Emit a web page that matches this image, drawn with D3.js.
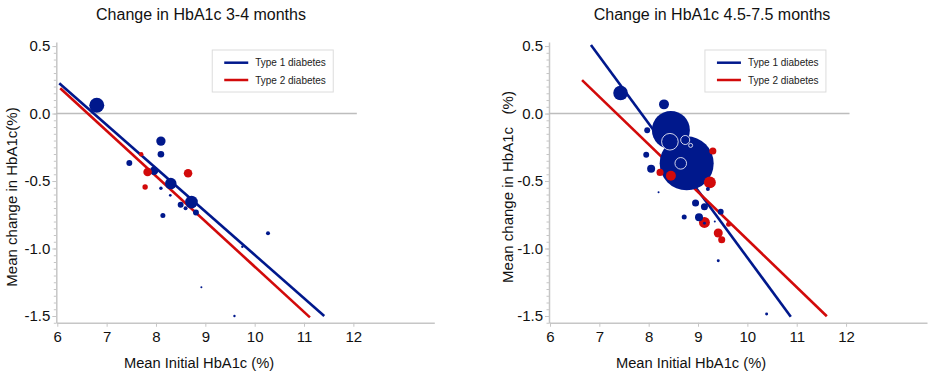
<!DOCTYPE html>
<html>
<head>
<meta charset="utf-8">
<script src="https://cdn.jsdelivr.net/npm/d3@7"></script>
<style>
  body { margin: 0; background: #fff; }
  svg { font-family: "Liberation Sans", Arial, Helvetica, sans-serif; }
</style>
</head>
<body>
<div id="chart"></div>
<script>
// Study points: [mean initial HbA1c, mean change, relative weight]
const leftType1 = [
  [6.80, 0.061, 77], [8.10, -0.204, 30], [8.10, -0.302, 15], [7.46, -0.367, 12],
  [7.96, -0.424, 25], [8.30, -0.519, 45], [8.10, -0.554, 4], [8.29, -0.606, 2.5],
  [8.72, -0.656, 55], [8.50, -0.676, 12], [8.60, -0.702, 5.5], [8.81, -0.733, 12],
  [8.14, -0.756, 8.6], [10.27, -0.887, 5.5], [9.75, -0.987, 2], [8.92, -1.287, 1.4],
  [9.59, -1.50, 2]
];
const leftType2 = [
  [7.70, -0.302, 7], [7.83, -0.433, 25], [8.65, -0.443, 25], [7.78, -0.544, 10]
];
const leftHollow = [];

const rightType1 = [
  [7.43, 0.152, 73], [8.31, 0.068, 34], [8.45, -0.122, 495], [7.97, -0.124, 12],
  [8.77, -0.369, 1000], [7.95, -0.305, 12], [8.05, -0.409, 22], [8.20, -0.584, 1.4],
  [9.20, -0.559, 5.5], [8.95, -0.663, 17], [9.13, -0.690, 17], [8.72, -0.767, 8.6],
  [9.02, -0.769, 22], [9.46, -0.727, 12], [9.13, -0.813, 3], [9.34, -0.80, 1.4],
  [9.41, -1.09, 3], [10.39, -1.485, 3]
];
const rightType2 = [
  [8.23, -0.436, 17], [8.45, -0.461, 34], [9.30, -0.278, 17], [9.24, -0.51, 49],
  [9.13, -0.807, 41], [9.62, -0.821, 8.6], [9.41, -0.885, 28], [9.48, -0.935, 17]
];
// studies drawn as open rings on top of the large markers
const rightHollow = [
  [8.43, -0.209, 95], [8.74, -0.196, 28], [8.85, -0.236, 5.5], [8.65, -0.369, 46]
];

// Regression lines: [x, y] end points
const leftFit1 = [[6.04, 0.224], [11.41, -1.50]];
const leftFit2 = [[6.06, 0.187], [11.12, -1.51]];
const rightFit1 = [[6.83, 0.507], [10.88, -1.505]];
const rightFit2 = [[6.65, 0.248], [11.61, -1.502]];

const xTicks = [6, 7, 8, 9, 10, 11, 12];
const yTicks = [0.5, 0.0, -0.5, -1.0, -1.5];
const titles = ["Change in HbA1c 3-4 months", "Change in HbA1c 4.5-7.5 months"];
const xTitle = "Mean Initial HbA1c (%)";
const yTitles = ["Mean change in HbA1c(%)", "Mean change in HbA1c   (%)"];
const legendLabels = ["Type 1 diabetes", "Type 2 diabetes"];

const blue = "#00188c";
const red = "#d20a0a";
const axisGrey = "#c6c6c6";

const svg = d3.select("#chart")
  .append("svg")
  .attr("width", 928)
  .attr("height", 374);

// shared scales
const yScale = d3.scaleLinear().domain([-1.55, 0.53]).range([322.75, 42]);
const rScale = d3.scaleSqrt().domain([0, 1000]).range([0, 27]);

const panels = [
  {left: 56.3, t1: leftType1, t2: leftType2, hollow: leftHollow, fit1: leftFit1, fit2: leftFit2,
   title: titles[0], titleX: 201, yTitle: yTitles[0], yTitleX: 16.5, yTitleY: 197, xTitleX: 199},
  {left: 549, t1: rightType1, t2: rightType2, hollow: rightHollow, fit1: rightFit1, fit2: rightFit2,
   title: titles[1], titleX: 712, yTitle: yTitles[1], yTitleX: 513, yTitleY: 187, xTitleX: 691}
];

function drawPanel(p) {
  const xScale = d3.scaleLinear().domain([5.98, 13.64]).range([p.left, p.left + 378]);
  const g = svg.append("g");

  // minor y ticks
  g.append("g")
    .attr("transform", `translate(${p.left}, 0)`)
    .call(d3.axisLeft(yScale)
      .tickValues(d3.range(-31, 11).map(i => i * 0.05))
      .tickSize(2.5)
      .tickFormat(""))
    .call(a => a.select(".domain").remove())
    .call(a => a.selectAll("line").attr("stroke", axisGrey));

  // y axis
  g.append("g")
    .attr("transform", `translate(${p.left}, 0)`)
    .call(d3.axisLeft(yScale)
      .tickValues(yTicks)
      .tickSize(4)
      .tickSizeOuter(0)
      .tickPadding(2)
      .tickFormat(d => d.toFixed(1)))
    .call(a => a.select(".domain").attr("stroke", axisGrey).attr("stroke-width", 1.5))
    .call(a => a.selectAll("line").attr("stroke", axisGrey))
    .call(a => a.selectAll("text").attr("font-size", 15).attr("fill", "#111"));

  // x axis
  g.append("g")
    .attr("transform", `translate(0, ${yScale(-1.55)})`)
    .call(d3.axisBottom(xScale)
      .tickValues(xTicks)
      .tickSize(4)
      .tickSizeOuter(0)
      .tickPadding(5))
    .call(a => a.select(".domain").attr("stroke", axisGrey).attr("stroke-width", 1.5))
    .call(a => a.selectAll("line").attr("stroke", axisGrey))
    .call(a => a.selectAll("text").attr("font-size", 15).attr("fill", "#111"));

  // zero reference line
  g.append("line")
    .attr("x1", xScale(5.98)).attr("x2", xScale(12.07))
    .attr("y1", yScale(0)).attr("y2", yScale(0))
    .attr("stroke", "#bdbdbd")
    .attr("stroke-width", 1.5);

  // regression lines
  const line = d3.line().x(d => xScale(d[0])).y(d => yScale(d[1]));
  [[p.fit1, blue], [p.fit2, red]].forEach(([pts, c]) => {
    g.append("path")
      .attr("d", line(pts))
      .attr("fill", "none")
      .attr("stroke", c)
      .attr("stroke-width", 2.6);
  });

  // points, biggest first
  const pts = p.t1.map(d => ({d, c: blue})).concat(p.t2.map(d => ({d, c: red})))
    .sort((a, b) => b.d[2] - a.d[2]);
  g.selectAll("circle.pt")
    .data(pts)
    .join("circle")
    .attr("class", "pt")
    .attr("cx", e => xScale(e.d[0]))
    .attr("cy", e => yScale(e.d[1]))
    .attr("r", e => rScale(e.d[2]))
    .attr("fill", e => e.c);

  g.selectAll("circle.ring")
    .data(p.hollow)
    .join("circle")
    .attr("class", "ring")
    .attr("cx", d => xScale(d[0]))
    .attr("cy", d => yScale(d[1]))
    .attr("r", d => rScale(d[2]))
    .attr("fill", "none")
    .attr("stroke", "#e8e8f4")
    .attr("stroke-width", 0.9);

  // titles
  g.append("text")
    .attr("x", p.titleX).attr("y", 19.5)
    .attr("text-anchor", "middle")
    .attr("font-size", 16)
    .attr("fill", "#111")
    .text(p.title);

  g.append("text")
    .attr("x", p.xTitleX).attr("y", 368)
    .attr("text-anchor", "middle")
    .attr("font-size", 14.7)
    .attr("fill", "#111")
    .text(xTitle);

  g.append("text")
    .attr("transform", `translate(${p.yTitleX}, ${p.yTitleY}) rotate(-90)`)
    .attr("text-anchor", "middle")
    .attr("font-size", 15)
    .attr("fill", "#111")
    .style("white-space", "pre")
    .text(p.yTitle);

  // legend
  const lx = xScale(9.14), ly = 50;
  const legend = g.append("g").attr("transform", `translate(${lx}, ${ly})`);
  legend.append("rect")
    .attr("width", 121).attr("height", 42)
    .attr("fill", "#fff")
    .attr("stroke", "#dcdcdc");
  [blue, red].forEach((c, i) => {
    legend.append("line")
      .attr("x1", 12).attr("x2", 36)
      .attr("y1", 12.7 + i * 17.3).attr("y2", 12.7 + i * 17.3)
      .attr("stroke", c)
      .attr("stroke-width", 2.5);
    legend.append("text")
      .attr("x", 43).attr("y", 16.3 + i * 17.3)
      .attr("font-size", 10)
      .attr("fill", "#222")
      .text(legendLabels[i]);
  });
}

panels.forEach(drawPanel);
</script>
</body>
</html>
